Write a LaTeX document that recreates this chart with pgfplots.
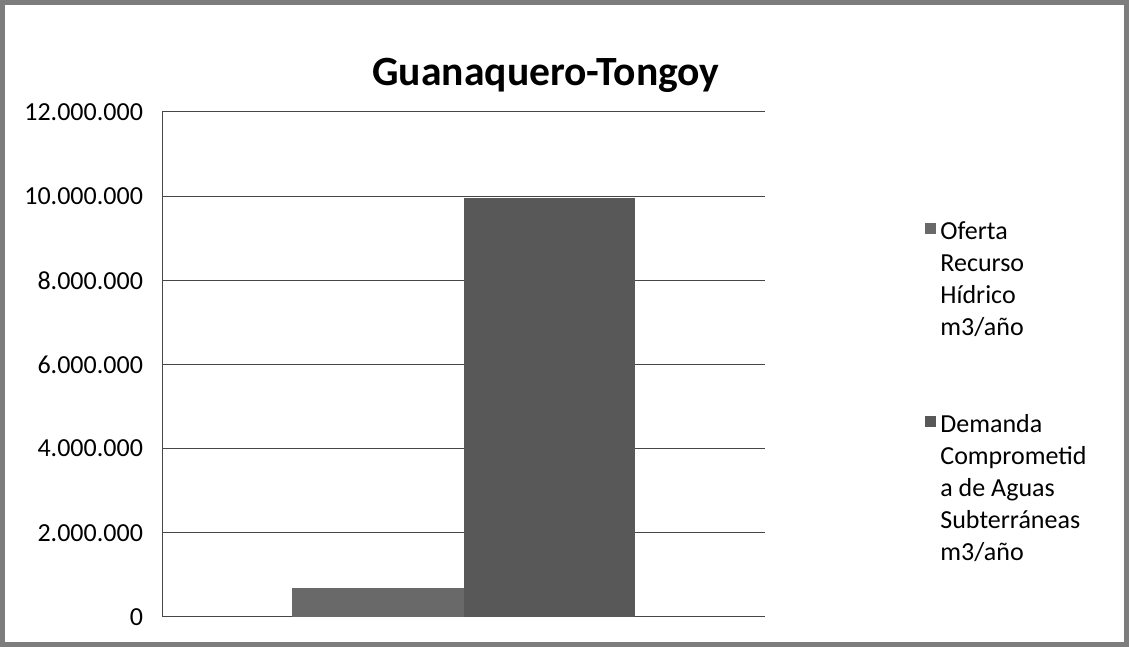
\documentclass[border=0pt]{standalone}
\usepackage{pgfplots}
\pgfplotsset{compat=1.18}
\usepackage{fontspec}
\setmainfont{Carlito}
\definecolor{barA}{RGB}{105,105,105}
\definecolor{barB}{RGB}{88,88,88}
\definecolor{gridc}{RGB}{70,70,70}
\definecolor{framec}{RGB}{125,125,125}
\begin{document}
\begin{tikzpicture}
\useasboundingbox (0pt,0pt) rectangle (564.5pt,323.5pt);
\draw[line width=2.5pt, framec] (1.25pt,1.25pt) rectangle (563.25pt,322.25pt);
\node[font=\fontsize{20.8}{24}\selectfont\bfseries] at (273pt,286pt) {Guanaquero-Tongoy};
\begin{axis}[
  at={(81pt,15pt)}, anchor=south west, scale only axis,
  width=301.5pt, height=252.5pt,
  ybar=0pt, bar width=0.285,
  xmin=-0.5, xmax=0.5, ymin=0, ymax=12000000,
  xtick=\empty,
  ytick={0,2000000,4000000,6000000,8000000,10000000,12000000},
  axis x line=bottom, axis y line=left,
  axis line style={-, gridc, line width=0.5pt},
  ymajorgrids, grid style={gridc, line width=0.5pt},
  major tick length=0pt,
  scaled y ticks=false,
  /pgf/number format/fixed,
  /pgf/number format/1000 sep={.},
  /pgf/number format/assume math mode=true,
  yticklabel style={font=\fontsize{13}{16}\selectfont, xshift=-6pt},
  legend style={at={(1.2554,0.80)}, anchor=north west, draw=none, fill=none,
    font=\fontsize{13}{16}\selectfont, cells={anchor=north west, align=left},
    row sep=33.5pt},
  legend image code/.code={\fill[#1] (0pt,-8.5pt) rectangle (5.5pt,-3pt);},
]
\addplot[fill=barA, draw=none] coordinates {(0,700000)};
\addplot[fill=barB, draw=none] coordinates {(0,9950000)};
\legend{Oferta\\Recurso\\Hídrico\\m3/año, Demanda\\Comprometid\\a de Aguas\\Subterráneas\\m3/año}
\end{axis}
\end{tikzpicture}
\end{document}
